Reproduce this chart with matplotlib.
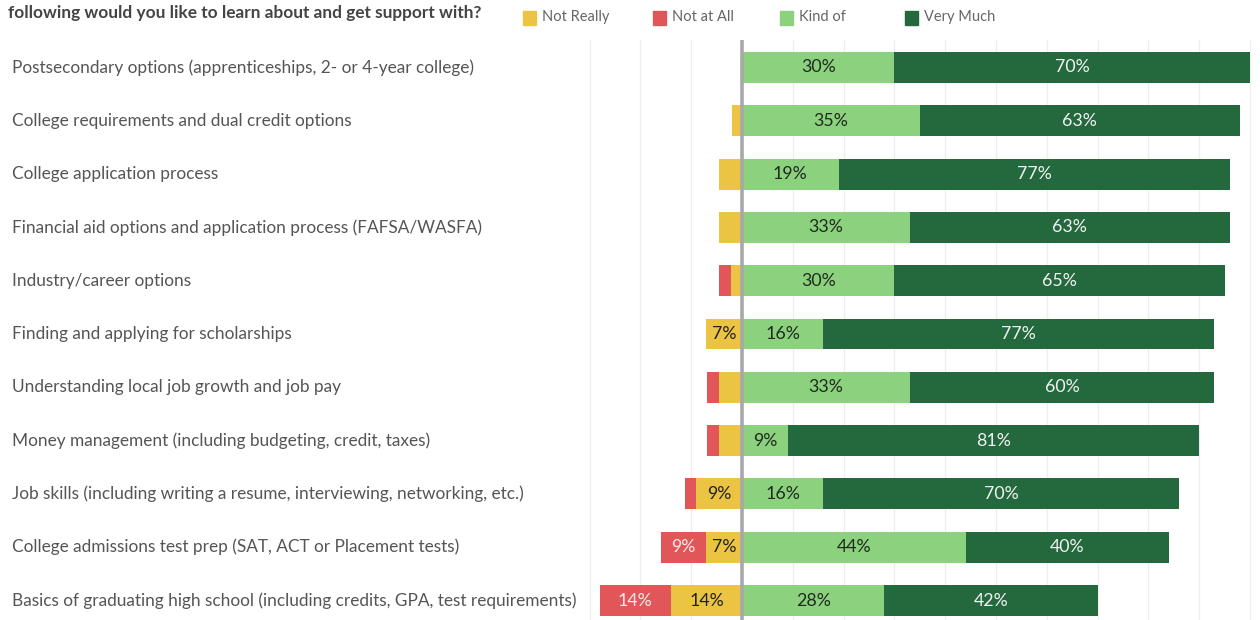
import matplotlib
matplotlib.use("Agg")
import matplotlib.pyplot as plt
from matplotlib.patches import Rectangle

categories = [
    "Postsecondary options (apprenticeships, 2- or 4-year college)",
    "College requirements and dual credit options",
    "College application process",
    "Financial aid options and application process (FAFSA/WASFA)",
    "Industry/career options",
    "Finding and applying for scholarships",
    "Understanding local job growth and job pay",
    "Money management (including budgeting, credit, taxes)",
    "Job skills (including writing a resume, interviewing, networking, etc.)",
    "College admissions test prep (SAT, ACT or Placement tests)",
    "Basics of graduating high school (including credits, GPA, test requirements)",
]
not_really = [0, 2, 4.5, 4.5, 2.2, 7, 4.5, 4.5, 9, 7, 14]
not_at_all = [0, 0, 0, 0, 2.3, 0, 2.3, 2.3, 2.3, 9, 14]
kind_of = [30, 35, 19, 33, 30, 16, 33, 9, 16, 44, 28]
very_much = [70, 63, 77, 63, 65, 77, 60, 81, 70, 40, 42]

series_names = ["Not Really", "Not at All", "Kind of", "Very Much"]
colors = {"Not Really": "#EBC444", "Not at All": "#E15759",
          "Kind of": "#8CD17D", "Very Much": "#24693D"}
label_colors = {"Not Really": "#222222", "Not at All": "#FBE9E9",
                "Kind of": "#1E2B1E", "Very Much": "#F2F2F2"}
title_text = "following would you like to learn about and get support with?"

plt.rcParams['font.family'] = ['Lato', 'DejaVu Sans']

fig = plt.figure(figsize=(12.6, 6.2), dpi=100)
ax = fig.add_axes([585 / 1260, 0, (1256 - 585) / 1260, 1 - 40 / 620])
ax.set_xlim(-(742 - 585) / 5.08, (1256 - 742) / 5.08)
n = len(categories)
row0 = 67.5   # pixel y of first row centre
step = 53.3   # pixel distance between rows
ax.set_ylim((620 - row0) / step, (40 - row0) / step)

for g in range(-30, 101, 10):
    if g != 0:
        ax.axvline(g, color="#EEEEEE", lw=0.9, zorder=0)

h = 0.58
for i in range(n):
    segs = [
        ("Not at All", -not_really[i] - not_at_all[i], not_at_all[i]),
        ("Not Really", -not_really[i], not_really[i]),
        ("Kind of", 0, kind_of[i]),
        ("Very Much", kind_of[i], very_much[i]),
    ]
    for name, left, w in segs:
        if w <= 0:
            continue
        ax.barh(i, w, left=left, height=h, color=colors[name], zorder=2)
        if w >= 6:
            ax.text(left + w / 2, i, f"{round(w)}%", ha="center", va="center",
                    fontsize=12.8, color=label_colors[name], zorder=3)

ax.axvline(0, color="#A8A8A8", lw=2.6, zorder=4)

for s in ax.spines.values():
    s.set_visible(False)
ax.set_xticks([])
ax.set_yticks([])

for i, c in enumerate(categories):
    y = 1 - (row0 + i * step) / 620
    fig.text(12 / 1260, y, c, ha="left", va="center", fontsize=12.4, color="#555555")

fig.text(8 / 1260, 1 - 13 / 620, title_text, ha="left", va="center",
         fontsize=12.4, fontweight="bold", color="#444444")

leg_x = [523, 653, 780, 905]
for name, lx in zip(series_names, leg_x):
    fig.patches.append(Rectangle((lx / 1260, 1 - 25 / 620), 13 / 1260, 14 / 620,
                                 transform=fig.transFigure, color=colors[name]))
    fig.text((lx + 19) / 1260, 1 - 17 / 620, name, ha="left", va="center",
             fontsize=10.5, color="#666666")

fig.savefig("out.png", dpi=100, facecolor="white")
